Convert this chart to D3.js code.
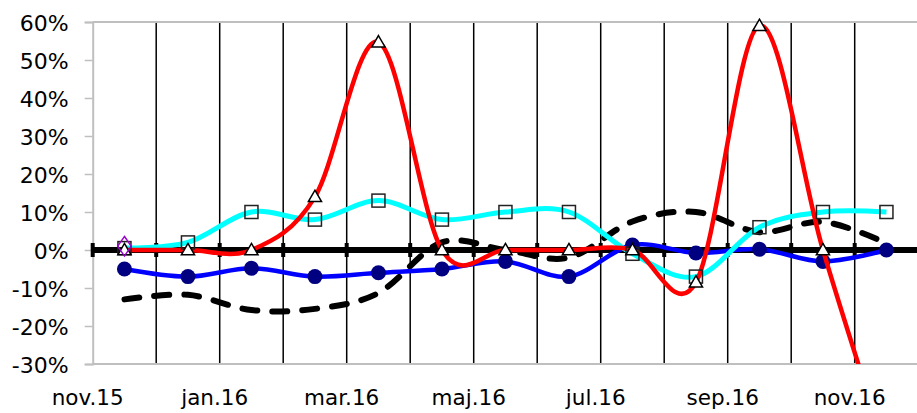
<!DOCTYPE html>
<html>
<head>
<meta charset="utf-8">
<script src="https://cdn.jsdelivr.net/npm/d3@7"></script>
<style>
  body { margin: 0; background: #fff; }
  text { font-family: "DejaVu Sans", Verdana, sans-serif; fill: #000; }
</style>
</head>
<body>
<svg id="chart" width="917" height="413"></svg>
<script>
// months on the category axis
var months = ["nov.15","dec.15","jan.16","feb.16","mar.16","apr.16","maj.16","jun.16","jul.16","aug.16","sep.16","okt.16","nov.16"];
// only every second label is printed
var monthLabels = ["nov.15","jan.16","mar.16","maj.16","jul.16","sep.16","nov.16"];
var yTicks = [-30,-20,-10,0,10,20,30,40,50,60];

// series values, percent
var redValues    = [0, 0, 0, 14, 54.7, 0, 0, 0, 0, -8.5, 59, 0, -53];
var cyanValues   = [0.5, 2, 10, 8, 13, 8, 10, 10, -1, -7, 6, 10, 10];
var blueValues   = [-5, -7, -4.8, -7, -6, -5, -3, -7, 1.3, -0.8, 0.2, -3, 0];
var dashedValues = [-13, -11.8, -15.8, -15.5, -11.3, 2, 0, -2, 7.5, 10, 4.7, 7.4, 1.8];
var purpleValues = [1];

var svg = d3.select("#chart");
var plotLeft = 92.7, plotTop = 22, plotBottom = 364, catW = 63.5;

var x = d3.scaleBand().domain(months).range([plotLeft, plotLeft + months.length*catW]);
var y = d3.scaleLinear().domain([-30, 60]).range([plotBottom, plotTop]);
var cx = function(i){ return x(months[i]) + x.bandwidth()/2; };

svg.append("clipPath").attr("id","plotClip")
    .append("rect").attr("x", plotLeft).attr("y", plotTop).attr("width", 917-plotLeft).attr("height", plotBottom-plotTop);

// vertical grid lines between categories
svg.append("g").selectAll("line").data(months.slice(1)).join("line")
    .attr("x1", function(d){ return x(d); })
    .attr("x2", function(d){ return x(d); })
    .attr("y1", plotTop).attr("y2", plotBottom)
    .style("stroke", "#000").style("stroke-width", "1.5px");

// grey frame
svg.append("line").attr("x1", plotLeft).attr("x2", 917).attr("y1", plotTop).attr("y2", plotTop)
    .style("stroke", "#bfbfbf").style("stroke-width", "2px");
svg.append("line").attr("x1", plotLeft).attr("x2", 917).attr("y1", plotBottom).attr("y2", plotBottom)
    .style("stroke", "#bfbfbf").style("stroke-width", "2px");

// y axis
var yAxis = svg.append("g").attr("transform", "translate(" + plotLeft + ",0)")
    .call(d3.axisLeft(y).tickValues(yTicks).tickFormat(function(d){ return d + "%"; }).tickSize(8).tickPadding(16));
yAxis.select(".domain").style("stroke", "#bfbfbf").style("stroke-width", "2px");
yAxis.selectAll(".tick line").style("stroke", "#bfbfbf").style("stroke-width", "1.5px");
yAxis.selectAll(".tick text").style("font-size", "22px").style("font-family", "DejaVu Sans").attr("fill", "#000").attr("dy", "0.4em");

// category labels
svg.append("g").selectAll("text").data(monthLabels).join("text")
    .attr("x", function(d){ return x(d) - 5; })
    .attr("y", 405)
    .attr("text-anchor", "middle")
    .style("font-size", "21.5px")
    .text(function(d){ return d; });

// thick zero axis with crossing ticks
svg.append("line").attr("x1", plotLeft).attr("x2", 917).attr("y1", y(0)).attr("y2", y(0))
    .style("stroke", "#000").style("stroke-width", "6px");
svg.append("g").selectAll("line").data(months).join("line")
    .attr("x1", function(d){ return x(d); })
    .attr("x2", function(d){ return x(d); })
    .attr("y1", y(0) - 7).attr("y2", y(0) + 7)
    .style("stroke", "#000").style("stroke-width", "4px");

var line = d3.line()
    .x(function(d, i){ return cx(i); })
    .y(function(d){ return y(d); })
    .curve(d3.curveCardinal.tension(0));

var lines = svg.append("g").attr("clip-path", "url(#plotClip)");

lines.append("path").datum(dashedValues).attr("d", line)
    .style("fill", "none").style("stroke", "#000").style("stroke-width", "6px")
    .style("stroke-dasharray", "15,15").style("stroke-linecap", "round");

lines.append("path").datum(blueValues).attr("d", line)
    .style("fill", "none").style("stroke", "#0000ff").style("stroke-width", "4.5px");

svg.append("g").selectAll("circle").data(blueValues).join("circle")
    .attr("cx", function(d, i){ return cx(i); })
    .attr("cy", function(d){ return y(d); })
    .attr("r", 7.5)
    .style("fill", "#000080");

var lines2 = svg.append("g").attr("clip-path", "url(#plotClip)");

lines2.append("path").datum(cyanValues).attr("d", line)
    .style("fill", "none").style("stroke", "#00ffff").style("stroke-width", "5px");

lines2.append("path").datum(redValues).attr("d", line)
    .style("fill", "none").style("stroke", "#ff0000").style("stroke-width", "4.5px");

// square markers
svg.append("g").selectAll("rect").data(cyanValues).join("rect")
    .attr("x", function(d, i){ return cx(i) - 6.5; })
    .attr("y", function(d){ return y(d) - 6.5; })
    .attr("width", 13).attr("height", 13)
    .style("fill", "none").style("stroke", "#222").style("stroke-width", "1.5px");

// triangle markers
var tri = d3.symbol().type(d3.symbolTriangle).size(75);
svg.append("g").selectAll("path").data(redValues.filter(function(d){ return d >= -30; })).join("path")
    .attr("d", tri)
    .attr("transform", function(d, i){ return "translate(" + cx(i) + "," + (y(d) + 1) + ")"; })
    .style("fill", "#fff").style("stroke", "#000").style("stroke-width", "1.5px");

// single purple diamond
var dia = d3.symbol().type(d3.symbolDiamond).size(110);
svg.append("g").selectAll("path").data(purpleValues).join("path")
    .attr("d", dia)
    .attr("transform", function(d, i){ return "translate(" + cx(i) + "," + y(d) + ") scale(1.2,1)"; })
    .style("fill", "none").style("stroke", "#9900cc").style("stroke-width", "1.3px");
</script>
</body>
</html>
